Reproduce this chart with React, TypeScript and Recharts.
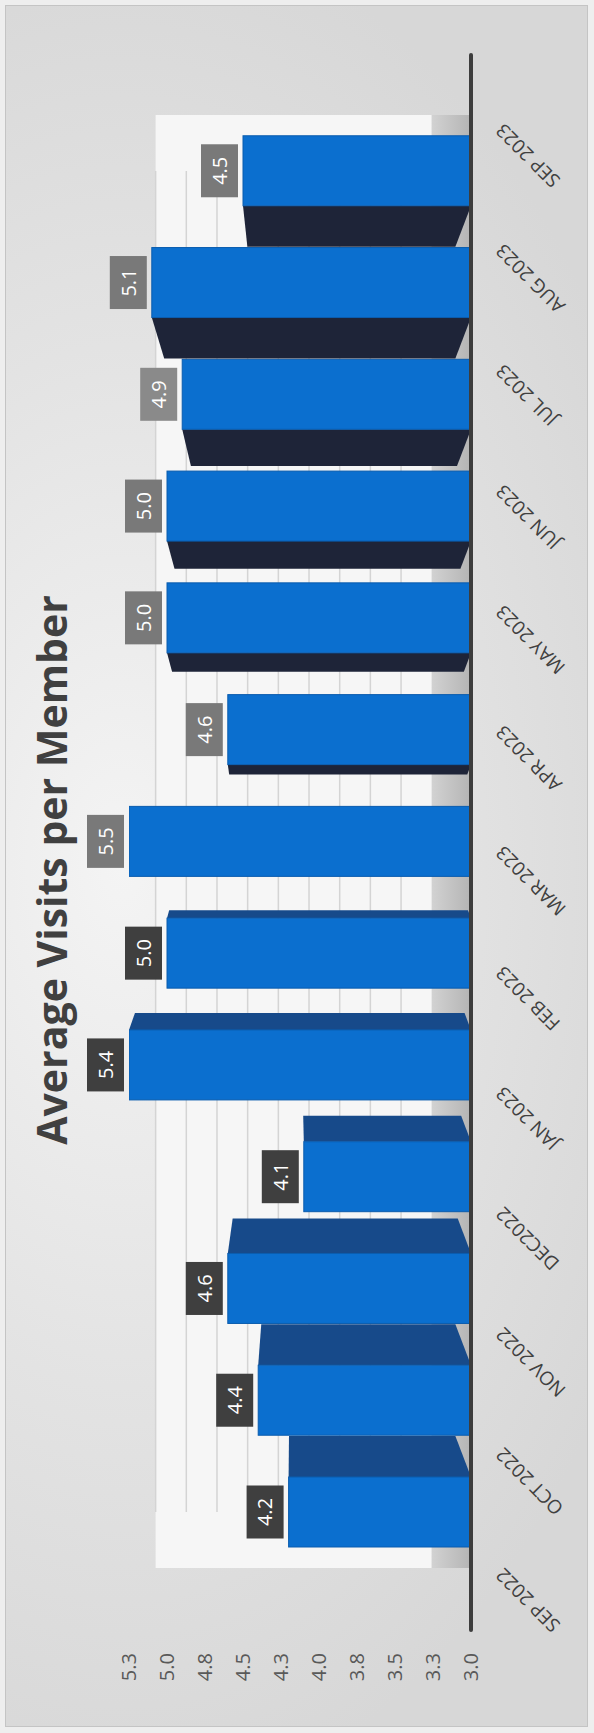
import React from "react";
import {
  BarChart,
  Bar,
  XAxis,
  YAxis,
  LabelList,
  ReferenceArea,
  ReferenceLine,
} from "recharts";

// chart values
const months = [
  "SEP 2022",
  "OCT 2022",
  "NOV 2022",
  "DEC2022",
  "JAN 2023",
  "FEB 2023",
  "MAR 2023",
  "APR 2023",
  "MAY 2023",
  "JUN 2023",
  "JUL 2023",
  "AUG 2023",
  "SEP 2023",
];
const visits = [4.2, 4.4, 4.6, 4.1, 5.4, 5.0, 5.5, 4.6, 5.0, 5.0, 4.9, 5.1, 4.5];
const valueTicks = [3, 3.25, 3.5, 3.75, 4, 4.25, 4.5, 4.75, 5, 5.25];
const wallTicks = [3.25, 3.5, 3.75, 4, 4.25, 4.5, 4.75, 5, 5.25];

const data = months.map((month, i) => ({ month, value: visits[i] }));

// the chart is drawn landscape and turned a quarter turn, like the photo
const W = 1733;
const H = 594;
const PLOT_TOP = 129;
const FONT = "'Open Sans', 'DejaVu Sans', sans-serif";

// fake 3d: vanishing point and side depth
const VX = 880;
const VY = 293;
const DEPTH_K = 0.08;
const DEPTH_D = 467;
const MAX_SIDE = 41;

function Bar3D(props: any) {
  const { x, y, width, height } = props;
  if (x == null || y == null) return null;
  const bottom = y + height;
  const top = Math.max(y, PLOT_TOP);
  const dist = x + width / 2 - VX;
  const d = Math.min(MAX_SIDE, Math.abs(dist) * DEPTH_K);
  const edge = dist < 0 ? x + width : x;
  const far = dist < 0 ? edge + d : edge - d;
  const k = d / DEPTH_D;
  const ft = top + (VY - top) * k;
  const fb = bottom - (bottom - VY) * k;
  return (
    <g>
      {d > 1 && (
        <polygon
          points={`${edge},${top} ${far},${ft} ${far},${fb} ${edge},${bottom}`}
          fill={dist < 0 ? "#174a8a" : "#1e2438"}
        />
      )}
      <rect
        x={x}
        y={top}
        width={width}
        height={bottom - top}
        fill="#0b6fcf"
        stroke="#0a5cae"
        strokeWidth={1}
      />
    </g>
  );
}

function ValueBox(props: any) {
  const vb = props.viewBox || {};
  const x = Number(vb.x ?? props.x);
  const y = Number(vb.y ?? props.y);
  const width = Number(vb.width ?? props.width);
  const { value, index } = props;
  const top = Math.max(y, PLOT_TOP);
  const cx = x + width / 2;
  const bw = 53;
  const bh = 37;
  const by = top - 5 - bh;
  const fill = index <= 5 ? "#3f3f3f" : index === 10 ? "#8a8a8a" : "#797979";
  return (
    <g>
      <rect x={cx - bw / 2} y={by} width={bw} height={bh} fill={fill} />
      <text
        x={cx}
        y={by + bh / 2}
        dy="0.36em"
        textAnchor="middle"
        fill="#ffffff"
        fontSize={20}
        fontFamily={FONT}
      >
        {Number(value).toFixed(1)}
      </text>
    </g>
  );
}

function MonthTick(props: any) {
  const { x, y, payload } = props;
  const ax = x + 3;
  const ay = y + 33;
  return (
    <text
      x={ax}
      y={ay}
      transform={`rotate(-45 ${ax} ${ay})`}
      textAnchor="end"
      fontSize={19}
      fill="#404040"
      fontFamily={FONT}
    >
      {payload.value}
    </text>
  );
}

export default function App() {
  return (
    <div style={{ position: "absolute", left: 0, top: 0, width: H, height: W, overflow: "hidden" }}>
      <div
        style={{
          position: "absolute",
          left: 0,
          top: 0,
          width: W,
          height: H,
          transformOrigin: "0 0",
          transform: `translate(0px, ${W}px) rotate(-90deg)`,
          background: "#eeeeee",
        }}
      >
        <div
          style={{
            position: "absolute",
            left: 6,
            top: 5,
            right: 5,
            bottom: 6,
            border: "1px solid #c4c4c4",
            background:
              "radial-gradient(ellipse 55% 100% at 50% 20%, #f4f4f4 0%, #e3e3e3 55%, #d7d7d7 100%)",
          }}
        />
        <svg
          width={W}
          height={100}
          style={{ position: "absolute", left: 0, top: 0, pointerEvents: "none" }}
        >
          <text
            x={863}
            y={67}
            textAnchor="middle"
            fontSize={41}
            fontWeight="bold"
            fill="#404040"
            fontFamily={FONT}
          >
            Average Visits per Member
          </text>
        </svg>
        <div style={{ position: "absolute", left: 0, top: 0 }}>
          <BarChart
            width={W}
            height={H}
            data={data}
            margin={{ top: PLOT_TOP, right: 55, bottom: 93, left: 0 }}
          >
            <XAxis
              xAxisId="bars"
              dataKey="month"
              hide
              height={0}
              padding={{ left: 62, right: 60 }}
            />
            <XAxis
              xAxisId="labels"
              dataKey="month"
              height={30}
              interval={0}
              padding={{ left: 0, right: 10 }}
              tickSize={0}
              tickMargin={0}
              tickLine={false}
              axisLine={{ stroke: "#3d3d3d", strokeWidth: 4, strokeLinecap: "round" }}
              tick={<MonthTick />}
            />
            <YAxis
              yAxisId="main"
              type="number"
              domain={[3, 5.25]}
              allowDataOverflow
              ticks={valueTicks}
              interval={0}
              width={103}
              tickSize={0}
              tickMargin={23}
              axisLine={false}
              tickLine={false}
              tickFormatter={(v: number) => v.toFixed(1)}
              tick={{ fill: "#595959", fontSize: 20, fontFamily: FONT }}
            />
            <YAxis yAxisId="wall" type="number" hide width={0} domain={[2.68, 5.467]} allowDataOverflow />
            <defs>
              <linearGradient id="floorFill" x1="0" y1="0" x2="0" y2="1">
                <stop offset="0%" stopColor="#d2d2d2" />
                <stop offset="100%" stopColor="#b4b4b4" />
              </linearGradient>
            </defs>
            <ReferenceArea
              xAxisId="bars"
              yAxisId="wall"
              x1={months[0]}
              x2={months[months.length - 1]}
              y1={3}
              y2={5.25}
              fill="#f6f6f6"
              fillOpacity={1}
              zIndex={-20}
            />
            <ReferenceArea
              xAxisId="bars"
              yAxisId="wall"
              x1={months[0]}
              x2={months[months.length - 1]}
              y1={2.68}
              y2={3}
              fill="url(#floorFill)"
              fillOpacity={1}
              zIndex={-20}
            />
            {wallTicks.map((t) => (
              <ReferenceLine
                key={t}
                xAxisId="bars"
                yAxisId="wall"
                segment={[
                  { x: months[0], y: t },
                  { x: months[months.length - 1], y: t },
                ]}
                stroke="#d4d4d4"
                strokeWidth={1.5}
                zIndex={-10}
              />
            ))}
            <Bar
              xAxisId="bars"
              yAxisId="main"
              dataKey="value"
              barSize={70}
              shape={<Bar3D />}
              isAnimationActive={false}
            >
              <LabelList dataKey="value" content={<ValueBox />} />
            </Bar>
          </BarChart>
        </div>
      </div>
    </div>
  );
}
